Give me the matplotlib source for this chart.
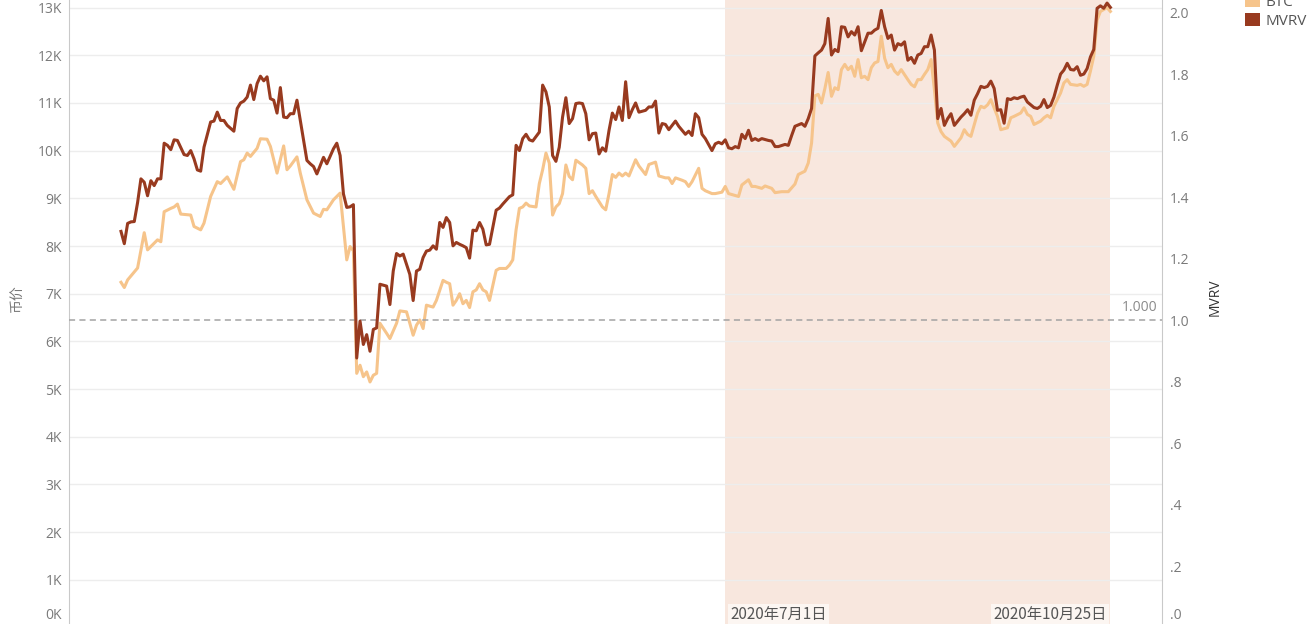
import matplotlib
matplotlib.use('Agg')
import matplotlib.pyplot as plt
import pandas as pd
import numpy as np
from matplotlib.patches import Patch

# ---------------- data ----------------
btc_day = [0,1,2,5,7,8,11,12,13,15,16,17,18,21,22,24,25,27,29,30,32,34,36,37,38,39,41,42,44,45,
           47,49,50,51,53,54,56,58,60,61,62,64,66,68,69,70,71,72,73,74,75,76,77,78,80,81,83,84,86,87,
           88,89,90,91,92,94,95,97,98,99,100,101,102,103,104,105,106,107,108,109,110,111,113,114,116,117,118,119,120,121,
           122,123,125,126,127,128,129,130,131,132,133,134,135,136,137,139,140,141,142,143,145,146,147,148,
           149,150,151,152,153,155,156,158,159,161,162,164,165,166,167,169,170,171,172,174,175,176,178,179,
           181,182,183,184,186,187,189,190,191,193,194,196,197,199,200,201,203,204,206,207,208,209,210,211,
           212,213,214,215,216,217,218,219,220,221,222,223,224,225,226,227,228,229,230,231,232,233,234,235,
           237,238,239,240,241,242,243,244,245,246,247,248,250,251,253,254,255,256,258,259,260,261,262,264,
           265,266,267,268,269,271,272,273,274,275,277,278,279,280,281,283,284,285,286,288,289,290,291,292,
           293,294,295,296,297,298]
btc_price_k = [7.24,7.13,7.29,7.54,8.28,7.92,8.13,8.09,8.72,8.79,8.82,8.88,8.67,8.65,8.41,8.34,8.48,9.04,9.35,9.31,
               9.45,9.19,9.77,9.81,9.95,9.88,10.05,10.25,10.24,10.09,9.53,10.1,9.6,9.68,9.87,9.53,8.97,8.69,8.62,8.77,
               8.76,8.97,9.11,7.71,7.99,7.9,5.33,5.5,5.26,5.36,5.15,5.29,5.33,6.38,6.17,6.06,6.38,6.64,6.62,6.38,
               6.13,6.34,6.45,6.27,6.76,6.72,6.86,7.28,7.24,7.21,6.76,6.86,7.0,6.79,6.86,6.71,7.04,7.08,7.21,7.08,
               7.04,6.86,7.49,7.53,7.53,7.6,7.71,8.34,8.79,8.82,8.9,8.84,8.82,9.31,9.6,9.95,9.74,8.65,8.82,8.89,
               9.1,9.7,9.46,9.39,9.8,9.7,9.63,9.1,9.16,9.04,8.82,8.76,9.1,9.5,9.44,9.53,9.47,9.53,9.47,9.81,
               9.68,9.5,9.71,9.76,9.47,9.43,9.43,9.31,9.43,9.38,9.35,9.25,9.35,9.63,9.21,9.16,9.1,9.1,9.13,9.25,
               9.1,9.08,9.04,9.28,9.39,9.25,9.25,9.21,9.26,9.21,9.12,9.14,9.14,9.14,9.3,9.5,9.57,9.74,10.16,11.15,
               11.18,11.0,11.3,11.64,11.14,11.32,11.28,11.7,11.81,11.7,11.77,11.56,11.91,11.53,11.56,11.49,11.74,11.84,11.87,12.4,
               11.94,11.74,11.81,11.67,11.6,11.7,11.49,11.39,11.34,11.49,11.49,11.6,11.7,11.91,11.28,10.58,10.4,10.3,10.2,10.09,
               10.27,10.44,10.34,10.3,10.79,10.93,10.9,10.96,11.07,10.72,10.44,10.46,10.48,10.69,10.72,10.79,10.9,10.76,10.72,10.55,
               10.62,10.69,10.74,10.69,10.93,11.21,11.42,11.49,11.39,11.37,11.39,11.35,11.39,11.67,11.98,12.74,12.92,12.96,13.0,12.92]

mvrv_day = [0,1,2,3,4,5,6,7,8,9,10,11,12,13,14,15,16,17,19,20,21,22,23,24,25,27,28,29,30,31,
            32,34,35,36,37,38,39,40,41,42,43,44,45,46,47,48,49,50,51,52,53,54,56,57,58,59,61,62,64,65,
            66,67,68,69,70,71,72,73,74,75,76,77,78,80,81,82,83,84,85,87,88,89,90,91,92,93,94,95,96,97,
            98,99,100,101,102,103,104,105,106,107,108,109,110,111,113,114,115,117,118,119,120,121,122,123,124,126,
            127,128,129,130,131,132,133,134,135,136,137,138,139,140,141,142,143,144,145,146,147,148,149,150,
            151,152,153,154,155,156,158,159,160,161,162,163,164,165,166,167,168,170,171,172,173,174,175,176,
            178,179,180,181,182,183,184,185,186,187,188,189,190,191,192,193,195,196,197,198,200,201,202,203,
            205,206,207,208,209,210,211,212,213,214,215,216,217,218,219,220,221,222,223,224,225,226,227,228,
            229,230,231,232,233,234,235,236,237,238,239,240,241,242,243,244,245,246,247,248,249,250,251,253,
            254,255,256,257,258,259,260,261,262,263,264,265,266,267,268,269,270,271,272,273,275,276,277,278,
            279,280,281,282,283,284,285,286,287,288,289,290,291,292,293,294,295,296,297,298]
mvrv_vals = [1.289,1.249,1.315,1.32,1.321,1.383,1.46,1.449,1.405,1.454,1.438,1.46,1.46,1.576,1.569,1.555,1.587,1.585,1.539,1.536,
             1.552,1.525,1.489,1.485,1.563,1.645,1.648,1.677,1.65,1.65,1.634,1.615,1.689,1.707,1.713,1.726,1.765,1.718,1.77,1.794,
             1.779,1.792,1.721,1.716,1.674,1.757,1.661,1.659,1.672,1.672,1.716,1.65,1.52,1.509,1.5,1.476,1.53,1.509,1.558,1.576,
             1.536,1.411,1.367,1.369,1.376,0.877,0.997,0.921,0.953,0.899,0.97,0.975,1.117,1.111,1.051,1.16,1.217,1.209,1.215,1.149,
             1.064,1.16,1.166,1.204,1.225,1.228,1.242,1.231,1.318,1.302,1.334,1.318,1.242,1.253,1.247,1.242,1.236,1.202,1.293,1.291,
             1.318,1.296,1.245,1.247,1.358,1.365,1.378,1.402,1.408,1.569,1.552,1.591,1.605,1.587,1.583,1.612,1.765,1.743,1.694,1.536,
             1.517,1.563,1.661,1.724,1.64,1.656,1.705,1.707,1.705,1.672,1.587,1.607,1.609,1.541,1.561,1.55,1.618,1.674,1.653,1.694,
             1.65,1.776,1.659,1.685,1.707,1.677,1.683,1.694,1.694,1.713,1.609,1.64,1.637,1.62,1.634,1.648,1.631,1.605,1.615,1.601,
             1.672,1.659,1.605,1.591,1.552,1.574,1.579,1.574,1.587,1.561,1.558,1.565,1.561,1.605,1.591,1.618,1.585,1.591,1.585,1.591,
             1.585,1.583,1.565,1.565,1.572,1.569,1.601,1.631,1.64,1.631,1.656,1.689,1.86,1.87,1.879,1.9,1.982,1.863,1.881,1.874,
             1.955,1.953,1.922,1.939,1.928,1.955,1.877,1.906,1.934,1.934,1.944,1.95,2.008,1.955,1.917,1.928,1.879,1.9,1.895,1.906,
             1.846,1.855,1.836,1.863,1.868,1.89,1.89,1.928,1.879,1.656,1.689,1.634,1.656,1.672,1.634,1.661,1.672,1.685,1.667,1.716,
             1.737,1.761,1.757,1.761,1.778,1.754,1.683,1.685,1.641,1.721,1.718,1.724,1.721,1.726,1.729,1.71,1.692,1.689,1.696,1.718,
             1.692,1.699,1.726,1.765,1.801,1.814,1.836,1.816,1.814,1.825,1.797,1.801,1.819,1.857,1.881,2.015,2.023,2.015,2.032,2.018]

start_date = '2020-01-01'
band_dates = ['2020-07-01', '2020-10-25']
band_labels = ['2020年7月1日', '2020年10月25日']
left_ticks = list(range(0, 14000, 1000))
left_labels = [f'{t // 1000}K' for t in left_ticks]
right_ticks = [0.0, 0.2, 0.4, 0.6, 0.8, 1.0, 1.2, 1.4, 1.6, 1.8, 2.0]
right_labels = ['.0', '.2', '.4', '.6', '.8', '1.0', '1.2', '1.4', '1.6', '1.8', '2.0']
ref_value = 1.0
ref_label = '1.000'
series_names = ['BTC', 'MVRV']

# ---------------- style ----------------
BTC_C = '#f6c48b'
MVRV_C = '#983a1f'
BAND_C = '#f8e7de'
GRID_C = '#ededed'
SPINE_C = '#c9c9c9'
TICK_C = '#7a7a7a'

plt.rcParams['font.family'] = ['Open Sans', 'Noto Sans CJK SC', 'DejaVu Sans']
CJK = ['Noto Sans CJK SC', 'DejaVu Sans']

W, H = 1313, 624
fig = plt.figure(figsize=(W / 100, H / 100), dpi=100)
ax = fig.add_axes([69 / W, (H - 627.5) / H, (1162 - 69) / W, 627.5 / H])
ax2 = ax.twinx()

base = pd.Timestamp(start_date)
btc_dates = base + pd.to_timedelta(btc_day, unit='D')
mvrv_dates = base + pd.to_timedelta(mvrv_day, unit='D')
btc_vals = np.array(btc_price_k) * 1000

b0, b1 = pd.Timestamp(band_dates[0]), pd.Timestamp(band_dates[1])
ax.axvspan(b0, b1, color=BAND_C, lw=0, zorder=0.5)

ax.plot(btc_dates, btc_vals, color=BTC_C, lw=2.2, solid_joinstyle='round', zorder=2)
ax2.plot(mvrv_dates, mvrv_vals, color=MVRV_C, lw=2.2, solid_joinstyle='round', zorder=3)

ax2.axhline(ref_value, color='#a3a3a3', lw=1.1, ls=(0, (4.0, 2.8)), zorder=2)
ax2.annotate(ref_label, xy=(1, ref_value), xycoords=('axes fraction', 'data'),
             xytext=(-5, 5), textcoords='offset pixels', ha='right', va='bottom',
             fontsize=10, color='#8a8a8a')

ax.set_xlim(base + pd.Timedelta(days=-15.66), base + pd.Timedelta(days=313.55))
ax.set_ylim(0, 13160)
ax2.set_ylim(0, 2.042)

ax.set_yticks(left_ticks)
ax.set_yticklabels([''] + left_labels[1:])
ax2.set_yticks(right_ticks)
ax2.set_yticklabels([''] + right_labels[1:])
ax.annotate(left_labels[0], xy=(0, 0), xycoords=('axes fraction', 'data'), xytext=(-7, 12),
            textcoords='offset pixels', ha='right', va='center', fontsize=10, color=TICK_C)
ax2.annotate(right_labels[0], xy=(1, 0), xycoords=('axes fraction', 'data'), xytext=(8, 12),
             textcoords='offset pixels', ha='left', va='center', fontsize=10, color=TICK_C)

ax.tick_params(axis='y', length=0, pad=5, labelsize=10, labelcolor=TICK_C)
ax2.tick_params(axis='y', length=0, pad=5.5, labelsize=10, labelcolor=TICK_C)
ax.set_xticks([])
ax.yaxis.grid(True, color=GRID_C, lw=1.0)
ax.set_axisbelow('line')

for s in ['top', 'bottom', 'right']:
    ax.spines[s].set_visible(False)
for s in ['top', 'bottom', 'left']:
    ax2.spines[s].set_visible(False)
ax.spines['left'].set_color(SPINE_C)
ax2.spines['right'].set_color(SPINE_C)

# band date labels
ax.annotate(band_labels[0], xy=(b0, 0), xycoords=('data', 'axes fraction'), xytext=(5, 13),
            textcoords='offset pixels', ha='left', va='center', fontsize=11, color='#555555',
            family=CJK, bbox=dict(boxstyle='square,pad=0.15', fc='#fcf6f2', ec='none'))
ax.annotate(band_labels[1], xy=(b1, 0), xycoords=('data', 'axes fraction'), xytext=(-4, 13),
            textcoords='offset pixels', ha='right', va='center', fontsize=11, color='#555555',
            family=CJK, bbox=dict(boxstyle='square,pad=0.15', fc='#fcf6f2', ec='none'))

# axis titles
fig.text(17 / W, 1 - 298 / H, '币价', rotation=90, ha='center', va='center', fontsize=10,
         color='#777777', family=CJK)
fig.text(1215 / W, 1 - 297 / H, 'MVRV', rotation=90, ha='center', va='center', fontsize=10,
         color='#333333')

# legend
handles = [Patch(facecolor=BTC_C, edgecolor='none', label=series_names[0]),
           Patch(facecolor=MVRV_C, edgecolor='none', label=series_names[1])]
leg = fig.legend(handles=handles, loc='upper left', bbox_to_anchor=(1245 / W, 1 + 6 / H),
                 frameon=False, fontsize=11, handlelength=0.95, handleheight=0.95,
                 handletextpad=0.4, labelspacing=0.2, borderpad=0, borderaxespad=0)
for t in leg.get_texts():
    t.set_color('#555555')

fig.savefig('out.png', dpi=100)
